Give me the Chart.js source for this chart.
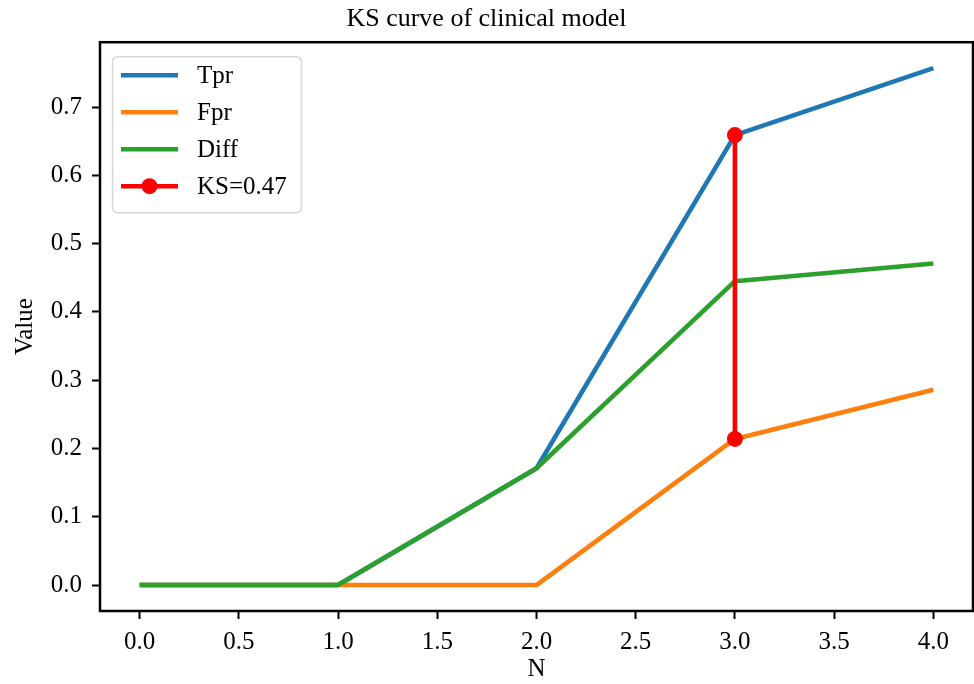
<!DOCTYPE html>
<html><head><meta charset="utf-8">
<script src="https://cdn.jsdelivr.net/npm/chart.js@4"></script>
<style>html,body{margin:0;padding:0;background:#fff}#wrap{width:974px;height:684px}</style>
</head><body><div id="wrap"><canvas id="c" width="974" height="684"></canvas></div>
<script>
const chartTitle = 'KS curve of clinical model';
const xLabel = 'N';
const yLabel = 'Value';
const nValues = [0, 1, 2, 3, 4];
const tpr = [0, 0, 0.171, 0.659, 0.757];
const fpr = [0, 0, 0, 0.214, 0.286];
const diff = [0, 0, 0.171, 0.445, 0.471];
const ksX = 3;
const ksLow = 0.214;
const ksHigh = 0.659;
const seriesNames = ['Tpr', 'Fpr', 'Diff', 'KS=0.47'];
const seriesColors = ['#1f77b4', '#ff7f0e', '#2ca02c', '#ff0000'];
const xTicks = [0, 0.5, 1, 1.5, 2, 2.5, 3, 3.5, 4];
const yTicks = [0, 0.1, 0.2, 0.3, 0.4, 0.5, 0.6, 0.7];

const FONT = "'Liberation Serif', 'Times New Roman', serif";
const LW = 4.6;

function pts(ys) { return nValues.map((x, i) => ({x: x, y: ys[i]})); }

const datasets = [
  {label: seriesNames[0], data: pts(tpr), borderColor: seriesColors[0], order: 3},
  {label: seriesNames[1], data: pts(fpr), borderColor: seriesColors[1], order: 2},
  {label: seriesNames[2], data: pts(diff), borderColor: seriesColors[2], order: 1},
  {label: seriesNames[3], data: [{x: ksX, y: ksLow}, {x: ksX, y: ksHigh}], borderColor: seriesColors[3],
   pointRadius: 8, pointBackgroundColor: seriesColors[3], pointBorderWidth: 0, order: 0}
].map(d => Object.assign({borderWidth: LW, pointRadius: 0, tension: 0, fill: false, borderCapStyle: 'butt', borderJoinStyle: 'round'}, d));

const framePlugin = {
  id: 'frame',
  afterDatasetsDraw(chart) {
    const ctx = chart.ctx, a = chart.chartArea;
    const bx = a.left + 12, by = a.top + 14, bw = 189, bh = 156, r = 5;
    ctx.save();
    ctx.beginPath();
    ctx.roundRect(bx + 0.5, by + 0.5, bw, bh, r);
    ctx.fillStyle = 'rgba(255,255,255,0.8)';
    ctx.fill();
    ctx.lineWidth = 1.5;
    ctx.strokeStyle = '#d6d6d6';
    ctx.stroke();
    ctx.font = "25px " + FONT;
    ctx.textBaseline = 'middle';
    ctx.textAlign = 'left';
    chart.data.datasets.forEach((d, i) => {
      const y = by + 19 + i * 37;
      ctx.beginPath();
      ctx.moveTo(bx + 9, y);
      ctx.lineTo(bx + 66, y);
      ctx.strokeStyle = d.borderColor;
      ctx.lineWidth = LW;
      ctx.stroke();
      if (d.pointRadius > 0) {
        ctx.beginPath();
        ctx.arc(bx + 37.5, y, d.pointRadius, 0, Math.PI * 2);
        ctx.fillStyle = d.borderColor;
        ctx.fill();
      }
      ctx.fillStyle = '#000';
      ctx.fillText(d.label, bx + 85, y + 1);
    });
    ctx.restore();
  },
  afterDraw(chart) {
    const ctx = chart.ctx, a = chart.chartArea;
    ctx.save();
    ctx.strokeStyle = '#000';
    ctx.lineWidth = 2.5;
    ctx.strokeRect(a.left, a.top, a.right - a.left, a.bottom - a.top);
    ctx.restore();
  }
};

new Chart(document.getElementById('c'), {
  type: 'line',
  data: {datasets: datasets},
  plugins: [framePlugin],
  options: {
    responsive: false,
    animation: false,
    devicePixelRatio: 1,
    layout: {autoPadding: false, padding: {left: 0, right: 1, top: 0, bottom: 0}},
    plugins: {
      legend: {display: false},
      tooltip: {enabled: false},
      title: {display: true, text: chartTitle, color: '#000',
        font: {family: FONT, size: 26, weight: 'normal'}, padding: {top: 4, bottom: 7}}
    },
    scales: {
      x: {
        type: 'linear', min: -0.2, max: 4.2,
        afterFit(s) { s.height = 73; s.paddingLeft = 0; s.paddingRight = 0; },
        afterBuildTicks(s) { s.ticks = xTicks.map(v => ({value: v})); },
        ticks: {color: '#000', font: {family: FONT, size: 25}, padding: 8, maxRotation: 0,
          callback: v => Number(v).toFixed(1)},
        grid: {drawOnChartArea: false, drawTicks: true, tickLength: 8, tickWidth: 2, tickColor: '#000', color: '#000'},
        border: {display: false},
        title: {display: true, text: xLabel, color: '#000', font: {family: FONT, size: 25}, padding: {top: 0, bottom: 0}}
      },
      y: {
        type: 'linear', min: -0.038, max: 0.795,
        afterFit(s) { s.width = 100; s.paddingTop = 0; s.paddingBottom = 0; },
        afterBuildTicks(s) { s.ticks = yTicks.map(v => ({value: v})); },
        ticks: {color: '#000', font: {family: FONT, size: 25}, padding: 10,
          callback: v => Number(v).toFixed(1)},
        grid: {drawOnChartArea: false, drawTicks: true, tickLength: 8, tickWidth: 2, tickColor: '#000', color: '#000'},
        border: {display: false},
        title: {display: true, text: yLabel, color: '#000', font: {family: FONT, size: 25}, padding: {top: 10, bottom: 0}}
      }
    }
  }
});
</script></body></html>
